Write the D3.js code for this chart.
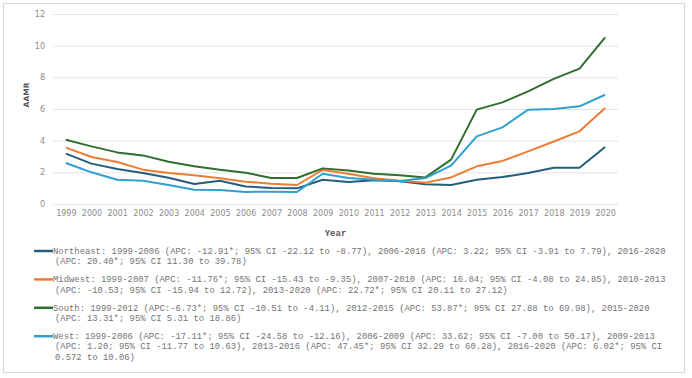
<!DOCTYPE html>
<html>
<head>
<meta charset="utf-8">
<script src="https://cdn.jsdelivr.net/npm/d3@7"></script>
<style>
  body { margin: 0; background: #fff; }
  svg { display: block; }
</style>
</head>
<body>
<div id="chart"></div>
<script>
// years on the x axis
const years = [1999, 2000, 2001, 2002, 2003, 2004, 2005, 2006, 2007, 2008, 2009, 2010,
               2011, 2012, 2013, 2014, 2015, 2016, 2017, 2018, 2019, 2020];

// AAMR per region
const northeast = [3.18, 2.55, 2.21, 1.96, 1.66, 1.26, 1.47, 1.11, 1.01, 0.99, 1.53, 1.39,
                   1.50, 1.43, 1.24, 1.20, 1.53, 1.70, 1.96, 2.29, 2.29, 3.60];
const midwest   = [3.56, 2.97, 2.65, 2.17, 1.96, 1.81, 1.62, 1.41, 1.28, 1.20, 2.15, 1.91,
                   1.62, 1.47, 1.35, 1.68, 2.38, 2.72, 3.32, 3.95, 4.59, 6.06];
const south     = [4.06, 3.64, 3.26, 3.07, 2.67, 2.38, 2.17, 1.98, 1.64, 1.64, 2.25, 2.12,
                   1.91, 1.81, 1.68, 2.80, 5.96, 6.42, 7.11, 7.90, 8.55, 10.52];
const west      = [2.59, 2.00, 1.53, 1.47, 1.20, 0.90, 0.88, 0.76, 0.78, 0.76, 1.91, 1.64,
                   1.53, 1.45, 1.64, 2.42, 4.27, 4.84, 5.96, 6.00, 6.17, 6.90];

const yTicks = [0, 2, 4, 6, 8, 10, 12];

const seriesNames = ["Northeast", "Midwest", "South", "West"];
const seriesColors = ["#245e7d", "#ee7d33", "#2f6e2f", "#2ea0d2"];

// legend text, wrapped as in the original
const legendLines = [
  ["Northeast: 1999-2006 (APC: -12.91*; 95% CI -22.12 to -8.77), 2006-2016 (APC: 3.22; 95% CI -3.91 to 7.79), 2016-2020",
   "(APC: 20.40*; 95% CI 11.30 to 39.78)"],
  ["Midwest: 1999-2007 (APC: -11.76*; 95% CI -15.43 to -9.35), 2007-2010 (APC: 16.84; 95% CI -4.08 to 24.85), 2010-2013",
   "(APC: -10.53; 95% CI -15.94 to 12.72), 2013-2020 (APC: 22.72*; 95% CI 20.11 to 27.12)"],
  ["South: 1999-2012 (APC:-6.73*; 95% CI -10.51 to -4.11), 2012-2015 (APC: 53.87*; 95% CI 27.88 to 69.98), 2015-2020",
   "(APC: 13.31*; 95% CI 5.31 to 18.86)"],
  ["West: 1999-2006 (APC: -17.11*; 95% CI -24.58 to -12.16), 2006-2009 (APC: 33.62; 95% CI -7.00 to 50.17), 2009-2013",
   "(APC: 1.20; 95% CI -11.77 to 10.63), 2013-2016 (APC: 47.45*; 95% CI 32.29 to 60.28), 2016-2020 (APC: 6.02*; 95% CI",
   "0.572 to 10.06)"]
];

const series = [northeast, midwest, south, west].map((vals, i) => ({
  name: seriesNames[i],
  color: seriesColors[i],
  values: years.map((y, j) => ({ year: y, v: vals[j] }))
}));

const W = 692, H = 378;
const margin = { top: 14, right: 74, bottom: 174, left: 53 },
  width = W - margin.left - margin.right,
  height = H - margin.top - margin.bottom;

const svg = d3.select("#chart")
  .append("svg")
  .attr("width", W)
  .attr("height", H);

// outer frame
svg.append("rect")
  .attr("x", 3.5).attr("y", 3.5)
  .attr("width", 681).attr("height", 369)
  .attr("fill", "none")
  .attr("stroke", "#d9d9d9");

const g = svg.append("g")
  .attr("transform", `translate(${margin.left},${margin.top})`);

const x = d3.scalePoint()
  .domain(years)
  .range([0, width])
  .padding(0.5);

const y = d3.scaleLinear()
  .domain([0, 12])
  .range([height, 0]);

// gridlines + y labels
const yAxis = g.append("g")
  .call(d3.axisLeft(y).tickValues(yTicks).tickSize(-width).tickPadding(8));
yAxis.select(".domain").remove();
yAxis.selectAll(".tick line").attr("stroke", "#e4e4e4");
yAxis.selectAll(".tick text")
  .attr("fill", "#8c8c8c")
  .style("font-family", "DejaVu Sans")
  .style("font-size", "8px");

// x labels
const xAxis = g.append("g")
  .attr("transform", `translate(0,${height})`)
  .call(d3.axisBottom(x).tickSize(0).tickPadding(6));
xAxis.select(".domain").remove();
xAxis.selectAll(".tick text")
  .attr("fill", "#8c8c8c")
  .style("font-family", "DejaVu Sans")
  .style("font-size", "8px");

// axis titles
g.append("text")
  .attr("x", width / 2)
  .attr("y", height + 32)
  .attr("text-anchor", "middle")
  .attr("fill", "#595959")
  .style("font-family", "Liberation Mono")
  .style("font-weight", "bold")
  .style("font-size", "9px")
  .text("Year");

g.append("text")
  .attr("transform", `translate(${-24},${height / 2 - 14}) rotate(-90)`)
  .attr("text-anchor", "middle")
  .attr("fill", "#595959")
  .style("font-family", "DejaVu Sans")
  .style("font-weight", "bold")
  .style("font-size", "7.5px")
  .text("AAMR");

// lines
const line = d3.line()
  .x(d => x(d.year))
  .y(d => y(d.v));

g.selectAll(".series")
  .data(series)
  .enter().append("path")
  .attr("class", "series")
  .attr("d", d => line(d.values))
  .attr("fill", "none")
  .attr("stroke", d => d.color)
  .attr("stroke-width", 2)
  .attr("stroke-linejoin", "round");

// legend
let ly = 254;
const legend = svg.append("g");
legendLines.forEach((lines, i) => {
  legend.append("line")
    .attr("x1", 34).attr("x2", 53)
    .attr("y1", ly - 3).attr("y2", ly - 3)
    .attr("stroke", seriesColors[i])
    .attr("stroke-width", 2.5);
  lines.forEach((t, k) => {
    legend.append("text")
      .attr("x", k === 0 ? 53 : 55)
      .attr("y", ly + k * 10.2)
      .attr("fill", "#747474")
      .style("font-family", "Liberation Mono")
      .style("font-size", "8.9px")
      .text(t);
  });
  ly += 28.4;
});
</script>
</body>
</html>
